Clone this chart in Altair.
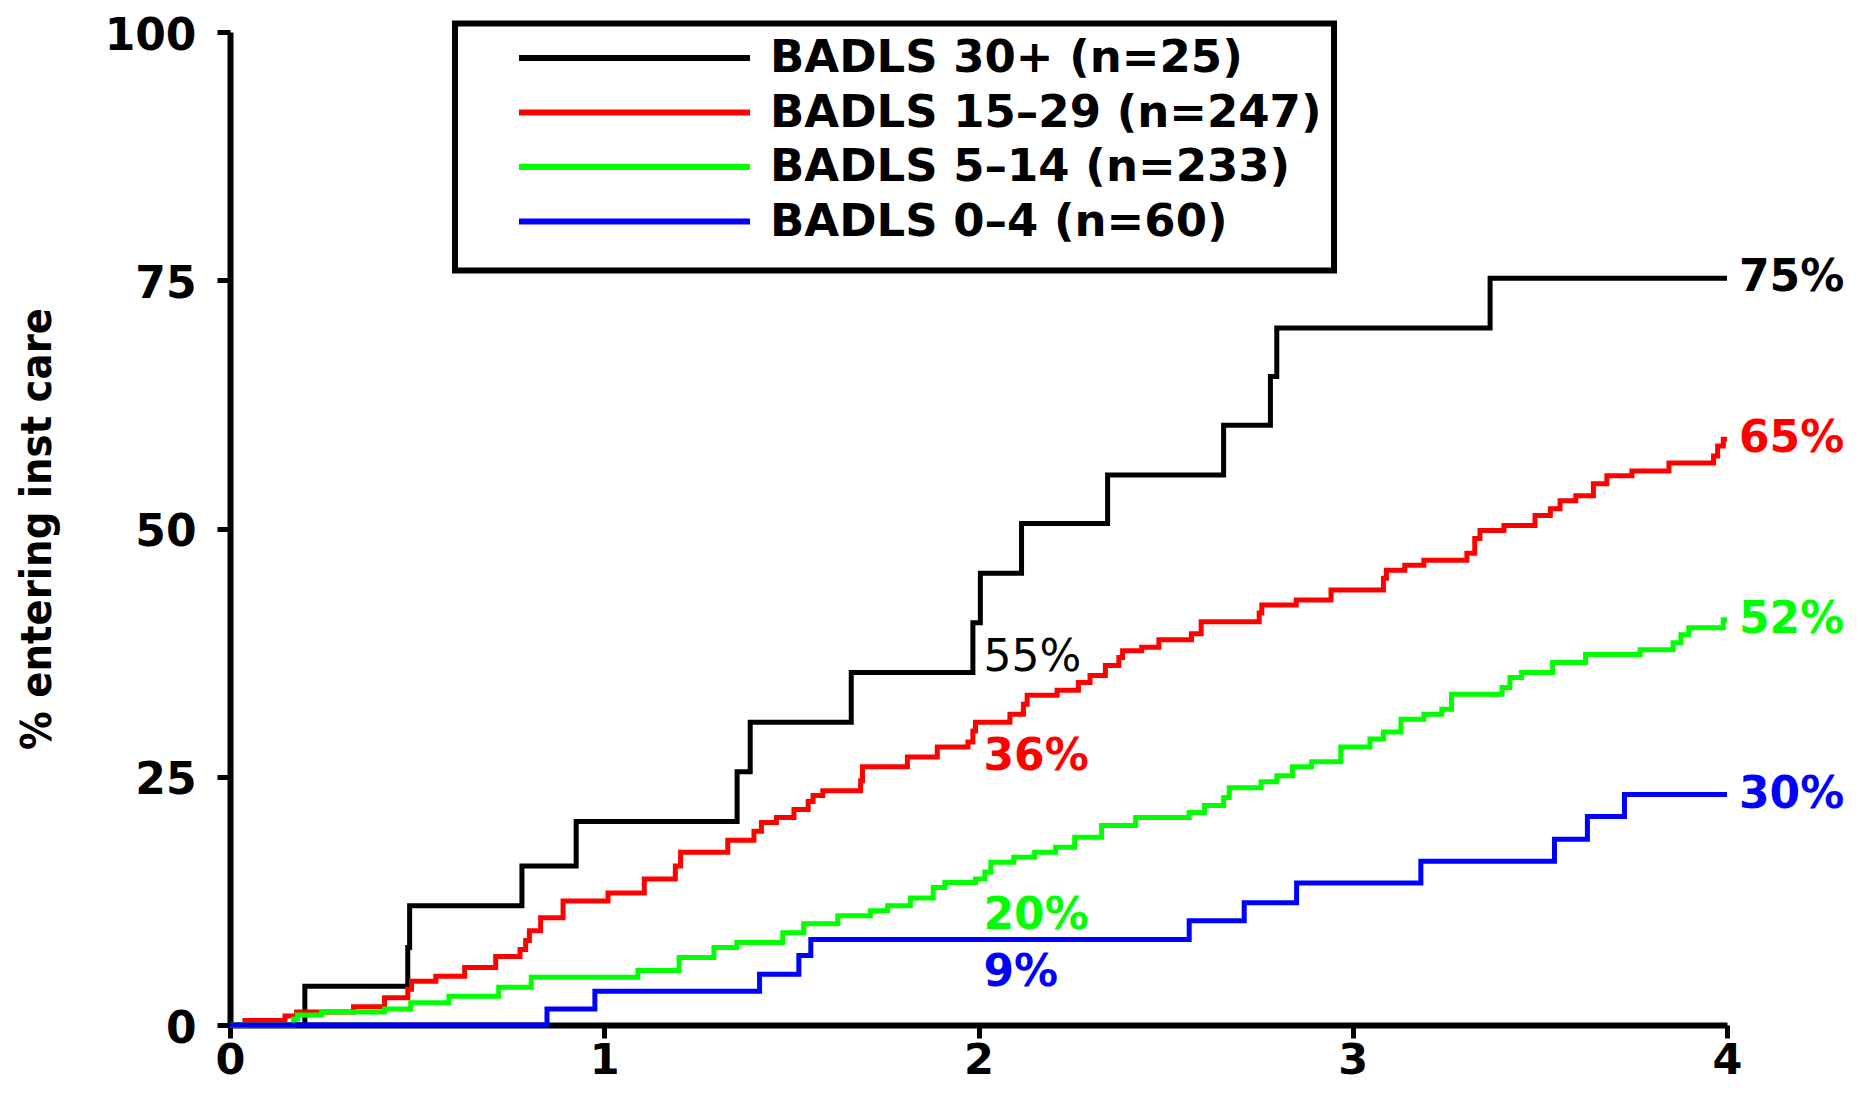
import altair as alt
import pandas as pd

# ---------------- data ----------------
series_names = ["BADLS 30+ (n=25)", "BADLS 15–29 (n=247)", "BADLS 5–14 (n=233)", "BADLS 0–4 (n=60)"]
series_colors = ["#000000", "#ff0000", "#00ff00", "#0000ff"]

black_t = [0, 0.20, 0.475, 0.48, 0.78, 0.925, 1.355, 1.39, 1.66, 1.985, 2.005, 2.115, 2.345,
           2.655, 2.78, 2.797, 3.367, 4.0]
black_v = [0, 3.9, 7.8, 12.0, 16.0, 20.5, 25.5, 30.5, 35.5, 40.5, 45.5, 50.5, 55.4,
           60.4, 65.3, 70.2, 75.2, 75.2]

red_t = [0, 0.04, 0.147, 0.178, 0.33, 0.413, 0.475, 0.485, 0.55, 0.627, 0.71, 0.775, 0.79, 0.80,
         0.83, 0.89, 1.01, 1.107, 1.19, 1.204, 1.33, 1.40, 1.42, 1.46, 1.507, 1.545, 1.558, 1.584,
         1.685, 1.69, 1.81, 1.89, 1.972, 1.985, 1.992, 2.084, 2.12, 2.13, 2.21, 2.267, 2.298, 2.339,
         2.375, 2.385, 2.436, 2.482, 2.569, 2.595, 2.75, 2.757, 2.849, 2.942, 3.082, 3.09, 3.139,
         3.19, 3.305, 3.326, 3.34, 3.404, 3.487, 3.528, 3.554, 3.596, 3.643, 3.679, 3.746, 3.845,
         3.964, 3.975, 3.99, 4.0]
red_v = [0, 0.45, 0.9, 1.3, 1.85, 2.75, 3.6, 4.4, 4.9, 5.8, 6.9, 7.6, 8.5, 9.5,
         10.8, 12.5, 13.3, 14.7, 16.0, 17.4, 18.6, 19.5, 20.4, 20.9, 21.7, 22.5, 23.1, 23.6,
         24.6, 26.0, 27.0, 28.0, 28.5, 29.6, 30.5, 31.3, 32.3, 33.2, 33.7, 34.5, 35.2, 36.2,
         37.0, 37.7, 38.05, 38.8, 39.4, 40.6, 41.5, 42.3, 42.8, 43.8, 45.0, 45.8, 46.3,
         46.8, 47.5, 49.0, 49.8, 50.3, 51.3, 52.0, 52.8, 53.3, 54.5, 55.3, 55.8, 56.6,
         57.3, 58.3, 59.0, 59.0]

green_t = [0, 0.17, 0.18, 0.245, 0.413, 0.483, 0.585, 0.718, 0.805, 1.09, 1.2, 1.293, 1.354,
           1.477, 1.533, 1.624, 1.711, 1.757, 1.818, 1.879, 1.91, 1.992, 2.017, 2.033, 2.094,
           2.15, 2.206, 2.257, 2.329, 2.42, 2.563, 2.604, 2.655, 2.67, 2.755, 2.797, 2.839, 2.89,
           2.968, 3.046, 3.082, 3.129, 3.19, 3.238, 3.264, 3.399, 3.42, 3.451, 3.534, 3.622,
           3.768, 3.856, 3.877, 3.898, 3.99, 4.0]
green_v = [0, 0.6, 1.0, 1.3, 1.6, 2.25, 2.9, 3.8, 4.8, 5.5, 6.8, 7.8, 8.3,
           9.3, 10.2, 11.0, 11.5, 12.0, 12.8, 13.85, 14.35, 14.7, 15.4, 16.4, 16.9,
           17.4, 17.9, 18.9, 20.1, 20.9, 21.4, 22.1, 22.9, 23.9, 24.5, 25.1, 26.0, 26.5,
           28.0, 28.8, 29.5, 30.8, 31.3, 31.8, 33.3, 34.0, 35.0, 35.5, 36.5, 37.3,
           37.8, 38.5, 39.3, 40.0, 40.8, 40.8]

blue_t = [0, 0.847, 0.975, 1.415, 1.52, 1.552, 2.563, 2.71, 2.85, 3.182, 3.539, 3.627, 3.726, 4.0]
blue_v = [0, 1.6, 3.4, 5.1, 7.0, 8.6, 10.5, 12.3, 14.3, 16.5, 18.7, 21.0, 23.2, 23.2]

end_labels = ["75%", "65%", "52%", "30%"]
mid_labels = ["55%", "36%", "20%", "9%"]
mid_label_t = [2.0, 2.0, 2.0, 2.0]
mid_label_v = [37.0, 27.0, 11.0, 5.2]

x_ticks = [0, 1, 2, 3, 4]
y_ticks = [0, 25, 50, 75, 100]
y_title = "% entering inst care"

# ---------------- tables ----------------
all_t = [black_t, red_t, green_t, blue_t]
all_v = [black_v, red_v, green_v, blue_v]
rows = []
for name, ts, vs in zip(series_names, all_t, all_v):
    for t, v in zip(ts, vs):
        rows.append({"series": name, "t": t, "v": v})
curves = pd.DataFrame(rows)

end_df = pd.DataFrame({
    "t": [ts[-1] for ts in all_t],
    "v": [vs[-1] for vs in all_v],
    "label": end_labels,
    "color": series_colors,
})
mid_df = pd.DataFrame({
    "t": mid_label_t,
    "v": mid_label_v,
    "label": mid_labels,
    "color": series_colors,
})

# ---------------- chart ----------------
FONT = "DejaVu Sans"

x_scale = alt.Scale(domain=[0, 4], nice=False, zero=False)
y_scale = alt.Scale(domain=[0, 100], nice=False)
color_scale = alt.Scale(domain=series_names, range=series_colors)

x_axis = alt.Axis(values=x_ticks, format="d", title=None, grid=False, labelFlush=False,
                  labelOverlap=False,
                  domainWidth=6, domainColor="black", tickWidth=5, tickSize=13, tickColor="black",
                  labelFont=FONT, labelFontWeight="bold", labelFontSize=43, labelColor="black",
                  labelPadding=1)
y_axis = alt.Axis(values=y_ticks, format="d", title=y_title, grid=False, labelFlush=False,
                  labelOverlap=False, labelOffset=4,
                  domainWidth=6, domainColor="black", tickWidth=5, tickSize=13, tickColor="black",
                  labelFont=FONT, labelFontWeight="bold", labelFontSize=44, labelColor="black",
                  labelPadding=21,
                  titleFont="DejaVu Sans Condensed", titleFontWeight="bold", titleFontSize=43,
                  titleColor="black", titleX=-193, titleY=496.5, titleAngle=-90,
                  titleAlign="center", titleBaseline="middle")

legend = alt.Legend(
    title=" ", titleOrient="bottom", titleFontSize=8, titlePadding=6,
    orient="none", legendX=225, legendY=-8.5, direction="vertical",
    symbolType="stroke", symbolSize=231 * 231, symbolStrokeWidth=6,
    symbolOffset=49, clipHeight=45, labelOffset=17,
    labelFont=FONT, labelFontSize=45, labelFontWeight="bold", labelColor="black", labelLimit=0,
    rowPadding=8.5, padding=12, strokeColor="black",
)

lines = alt.Chart(curves).mark_line(interpolate="step-after", strokeWidth=5).encode(
    x=alt.X("t:Q", scale=x_scale, axis=x_axis),
    y=alt.Y("v:Q", scale=y_scale, axis=y_axis),
    color=alt.Color("series:N", scale=color_scale, legend=legend),
)

end_text = alt.Chart(end_df).mark_text(
    align="left", baseline="middle", dx=12, font=FONT, fontSize=44, fontWeight="bold"
).encode(
    x="t:Q", y="v:Q", text="label:N", color=alt.Color("color:N", scale=None)
)

mid_bold = alt.Chart(mid_df).transform_filter(alt.datum.label != "55%").mark_text(
    align="left", baseline="middle", dx=5, font=FONT, fontSize=44, fontWeight="bold"
).encode(
    x="t:Q", y="v:Q", text="label:N", color=alt.Color("color:N", scale=None)
)
mid_plain = alt.Chart(mid_df).transform_filter(alt.datum.label == "55%").mark_text(
    align="left", baseline="middle", dx=5, font=FONT, fontSize=44, fontWeight="normal"
).encode(
    x="t:Q", y="v:Q", text="label:N", color=alt.Color("color:N", scale=None)
)

chart = alt.layer(lines, mid_bold, mid_plain, end_text).properties(
    width=1497, height=993,
    autosize=alt.AutoSizeParams(type="none"),
    padding={"left": 222, "top": 24, "right": 121, "bottom": 64},
).configure_view(stroke=None).configure_legend(strokeWidth=6)

chart.save("out.html", embed_options={"renderer": "svg", "actions": False})
